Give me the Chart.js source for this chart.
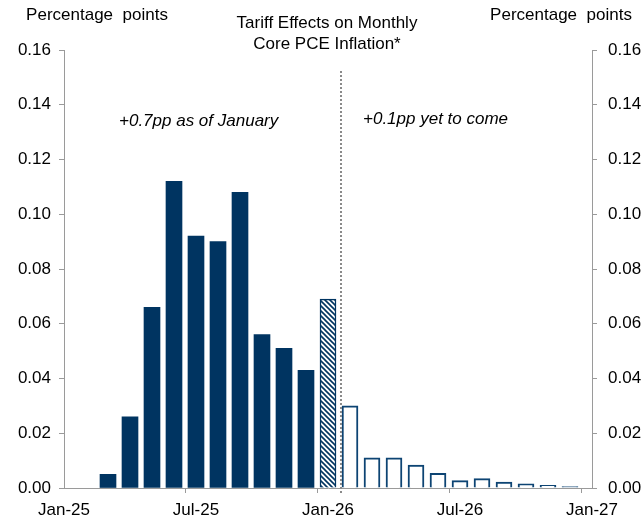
<!DOCTYPE html>
<html>
<head>
<meta charset="utf-8">
<script src="https://cdn.jsdelivr.net/npm/chart.js@4.4.1/dist/chart.umd.min.js"></script>
<style>
  html, body { margin: 0; padding: 0; background: #fff; overflow: hidden; }
</style>
</head>
<body>
<canvas id="chart" width="643" height="522"></canvas>
<script>
// monthly categories, Jan-25 .. Jan-27
const months = [
  "Jan-25", "Feb-25", "Mar-25", "Apr-25", "May-25", "Jun-25", "Jul-25", "Aug-25",
  "Sep-25", "Oct-25", "Nov-25", "Dec-25", "Jan-26", "Feb-26", "Mar-26", "Apr-26",
  "May-26", "Jun-26", "Jul-26", "Aug-26", "Sep-26", "Oct-26", "Nov-26", "Dec-26", "Jan-27"
];
// effect already passed through (Jan-26 only partly)
const realized = [
  null, null, 0.005, 0.026, 0.066, 0.112, 0.092, 0.090, 0.108, 0.056, 0.051, 0.043, 0.069,
  null, null, null, null, null, null, null, null, null, null, null, null
];
// effect still to come
const remaining = [
  null, null, null, null, null, null, null, null, null, null, null, null, null,
  0.030, 0.011, 0.011, 0.0084, 0.0054, 0.0027, 0.0034, 0.0022, 0.0015, 0.001, 0.0005, null
];
const partialMonth = "Jan-26";

const NAVY = "#003461";
const AXIS = "#9a9a9a";
const FONT = "'Liberation Sans', Arial, sans-serif";

// diagonal hatch for the partly realized month
function hatch() {
  const c = document.createElement("canvas");
  c.width = 5; c.height = 5;
  const g = c.getContext("2d");
  g.fillStyle = "#fff";
  g.fillRect(0, 0, 5, 5);
  g.strokeStyle = NAVY;
  g.lineWidth = 1.6;
  g.beginPath();
  g.moveTo(-1, -1); g.lineTo(6, 6);
  g.moveTo(-1, 4); g.lineTo(1, 6);
  g.moveTo(4, -1); g.lineTo(6, 1);
  g.stroke();
  return g.createPattern(c, "repeat");
}
const hatchFill = hatch();

const labels = {
  id: "labels",
  afterDatasetsDraw(chart) {
    const { ctx, scales } = chart;
    const x = scales.x;
    ctx.save();
    // divider between realized and remaining months
    const i = months.indexOf(partialMonth);
    const xd = Math.round(x.getPixelForValue(i) + 0.59 * (x.getPixelForValue(i + 1) - x.getPixelForValue(i)));
    ctx.strokeStyle = "#8a8a8a";
    ctx.lineWidth = 2;
    ctx.setLineDash([2, 2]);
    ctx.beginPath();
    ctx.moveTo(xd, 71);
    ctx.lineTo(xd, 494);
    ctx.stroke();
    ctx.setLineDash([]);

    ctx.fillStyle = "#000";
    ctx.textBaseline = "middle";
    ctx.font = "17px " + FONT;
    ctx.textAlign = "center";
    ctx.fillText("Percentage  points", 97, 15);
    ctx.fillText("Percentage  points", 561, 15);
    ctx.fillText("Tariff Effects on Monthly", 327, 23);
    ctx.fillText("Core PCE Inflation*", 327, 44);

    ctx.font = "italic 17px " + FONT;
    ctx.textAlign = "left";
    ctx.fillText("+0.7pp as of January", 119, 121);
    ctx.fillText("+0.1pp yet to come", 363, 119);
    ctx.restore();
  }
};

const yTicks = {
  stepSize: 0.02,
  color: "#000",
  font: { family: FONT, size: 17 },
  callback: v => v.toFixed(2)
};

new Chart(document.getElementById("chart"), {
  type: "bar",
  data: {
    labels: months,
    datasets: [
      {
        data: realized,
        grouped: false,
        barThickness: 16,
        backgroundColor: c => months[c.dataIndex] === partialMonth ? hatchFill : NAVY,
        borderColor: NAVY,
        borderWidth: c => months[c.dataIndex] === partialMonth ? 1.5 : 0,
        borderSkipped: "start"
      },
      {
        data: remaining,
        grouped: false,
        barThickness: 16,
        backgroundColor: "#fff",
        borderColor: "#0d4473",
        borderWidth: 2,
        borderSkipped: "start"
      }
    ]
  },
  options: {
    responsive: false,
    animation: false,
    layout: { padding: { top: 50, left: 0, right: 0, bottom: 0 } },
    plugins: { legend: { display: false }, tooltip: { enabled: false } },
    scales: {
      x: {
        offset: false,
        grid: {
          drawOnChartArea: false,
          tickLength: 5,
          color: c => c.index % 6 === 0 ? AXIS : "rgba(0,0,0,0)"
        },
        border: { color: AXIS },
        ticks: {
          autoSkip: false,
          maxRotation: 0,
          padding: 7,
          color: "#000",
          font: { family: FONT, size: 17 },
          callback: (v, i) => i % 6 === 0 ? months[i] : ""
        },
        afterFit: s => { s.height = 34; }
      },
      y: {
        position: "left",
        min: 0,
        max: 0.16,
        grid: { drawOnChartArea: false, tickLength: 5, color: AXIS },
        border: { color: AXIS },
        ticks: { ...yTicks, padding: 8 },
        afterFit: s => { s.width = 64; }
      },
      y2: {
        position: "right",
        min: 0,
        max: 0.16,
        grid: { drawOnChartArea: false, tickLength: 5, color: AXIS },
        border: { color: AXIS },
        ticks: { ...yTicks, padding: 11 },
        afterFit: s => { s.width = 51; }
      }
    }
  },
  plugins: [labels]
});
</script>
</body>
</html>
